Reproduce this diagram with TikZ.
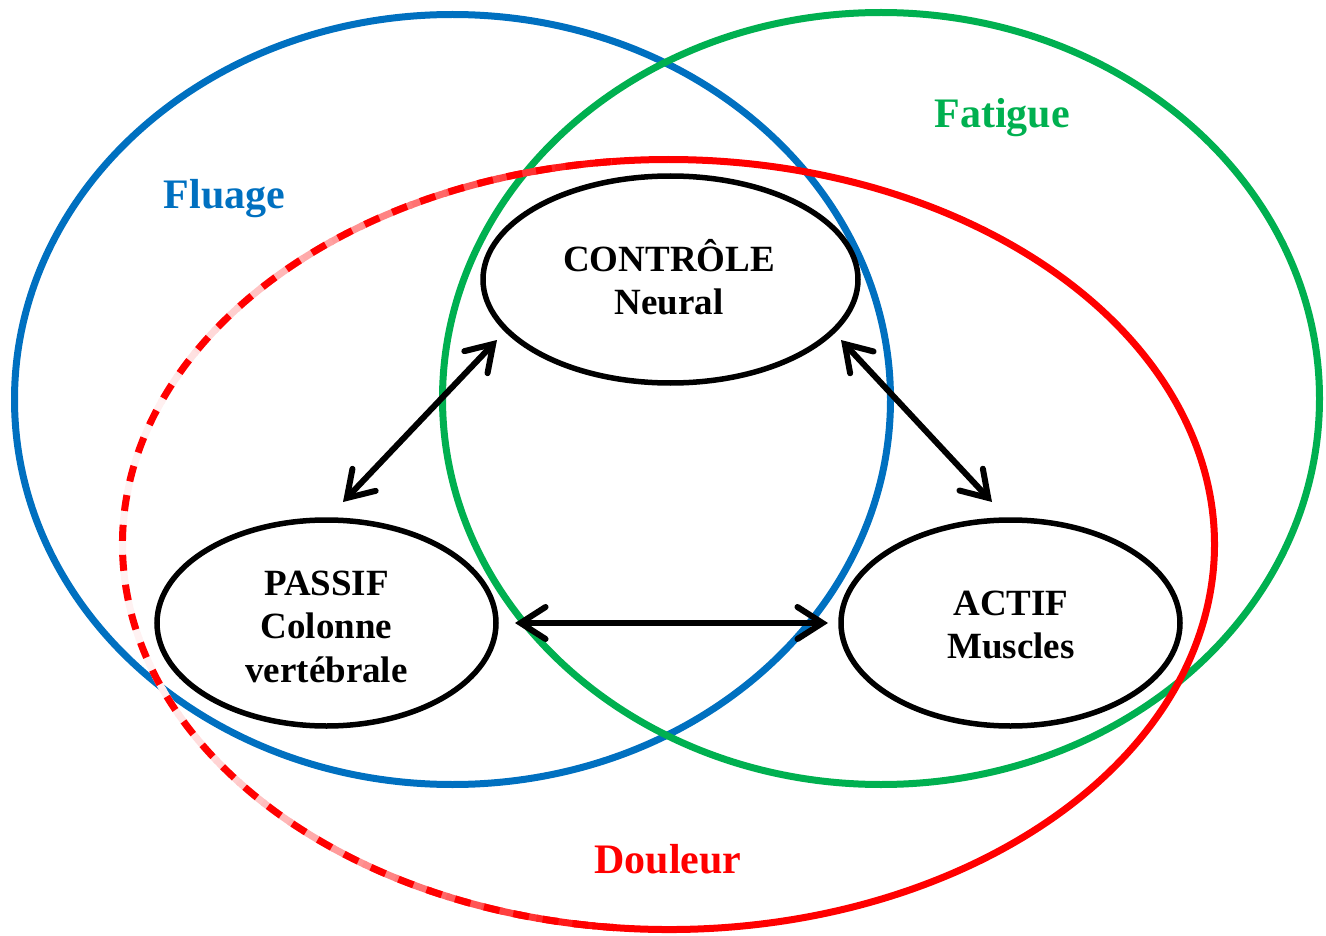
\documentclass[tikz,border=0pt]{standalone}
\usepackage{fontspec}
\setmainfont{Liberation Serif}
\usetikzlibrary{shapes.geometric,arrows.meta,calc}

\definecolor{fluageblue}{HTML}{0070C0}
\definecolor{fatiguegreen}{HTML}{00B050}
\definecolor{douleurred}{HTML}{FF0000}

\begin{document}
\begin{tikzpicture}[x=1pt,y=-1pt,
  zone/.style={line width=7pt},
  pillar/.style={draw=black, line width=5.5pt, ellipse, inner sep=0pt},
  inner/.style={font=\bfseries\fontsize{37}{43}\selectfont, anchor=base, inner sep=0pt},
  zonelabel/.style={font=\bfseries\fontsize{42}{48}\selectfont, anchor=base, inner sep=0pt},
  link/.style={line width=6pt,
    {Straight Barb[length=25pt,width=32pt,line cap=round]}-{Straight Barb[length=25pt,width=32pt,line cap=round]}}
]
\useasboundingbox (0,0) rectangle (1326,936);

% Fluage and Fatigue zones
\draw[zone, fluageblue] (452.5,399.5) ellipse [x radius=438pt, y radius=385pt];
\draw[zone, fatiguegreen] (881,398.5) ellipse [x radius=438.5pt, y radius=386pt];

% Douleur zone: solid on the right, dashed with a fading gap colour on the left
\foreach \a in {96,98,...,262} {
  \pgfmathsetmacro{\px}{668.5+546*cos(\a+1)}
  \pgfmathsetmacro{\pw}{min(0.95,max(0,(590-\px)/466)^0.8)}
  \pgfmathsetmacro{\pr}{100*(1-\pw)}
  \draw[line width=7pt, draw=douleurred!\pr!white]
    (668.5,544.5) ++(\a:546pt and 385pt)
    arc[start angle=\a, end angle=\a+2.3, x radius=546pt, y radius=385pt];
}
\draw[zone, douleurred, dash pattern=on 16pt off 14pt]
  (668.5,544.5) ++(96:546pt and 385pt)
  arc[start angle=96, end angle=264.3, x radius=546pt, y radius=385pt];
\draw[zone, douleurred]
  (668.5,544.5) ++(-96:546pt and 385pt)
  arc[start angle=-96, end angle=96, x radius=546pt, y radius=385pt];

% The three pillars
\node[pillar, minimum width=375pt, minimum height=207pt] (ctrl) at (670.5,279.5) {};
\node[pillar, minimum width=339pt, minimum height=206pt] (passif) at (326.5,623) {};
\node[pillar, minimum width=339pt, minimum height=206pt] (actif) at (1010.5,623) {};

\node[inner] (ctrlA) at (669,272) {CONTRÔLE};
\node[inner] (ctrlB) at (669,315) {Neural};
\node[inner] (passifA) at (326.5,595) {PASSIF};
\node[inner] (passifB) at (326.5,638) {Colonne};
\node[inner] (passifC) at (326.5,682) {vertébrale};
\node[inner] (actifA) at (1011,615) {ACTIF};
\node[inner] (actifB) at (1011,658) {Muscles};

% Interactions between the pillars
\draw[link] ([shift={(-173.5,60.5)}]ctrl.center) -- ([shift={(16.5,-121)}]passif.center);
\draw[link] ([shift={(170.5,60.5)}]ctrl.center) -- ([shift={(-18.5,-121)}]actif.center);
\draw[link] ([shift={(188.5,0)}]passif.center) -- ([shift={(-182.5,0)}]actif.center);

% Zone labels
\node[zonelabel, text=fluageblue] (fluage) at (224.5,209) {Fluage};
\node[zonelabel, text=fatiguegreen] (fatigue) at (1002,128) {Fatigue};
\node[zonelabel, text=douleurred] (douleur) at (668,873) {Douleur};
\end{tikzpicture}
\end{document}
